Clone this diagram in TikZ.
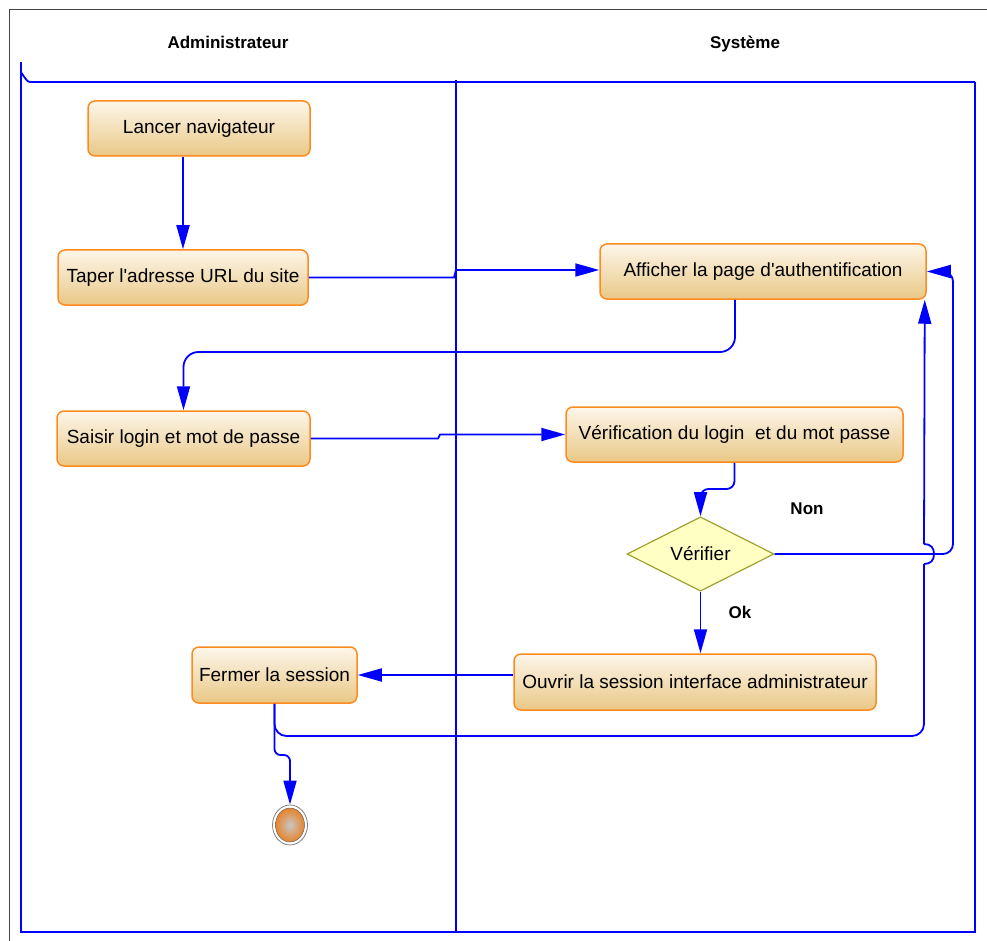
\documentclass[tikz,border=0pt]{standalone}
\usepackage{fontspec}
\setmainfont{Liberation Sans}
\usetikzlibrary{shapes.geometric,arrows.meta}
\definecolor{lane}{HTML}{0000FF}
\definecolor{actborder}{HTML}{FF8A1E}
\definecolor{actlight}{HTML}{FDF6EA}
\definecolor{actdark}{HTML}{E9C886}
\definecolor{decfill}{HTML}{FFFFC4}
\definecolor{decborder}{HTML}{A0A030}
\definecolor{framegray}{HTML}{444444}
\definecolor{endorange}{HTML}{E8842A}
\begin{document}
\begin{tikzpicture}[x=1pt,y=-1pt,
  activity/.style={draw=actborder, line width=1.5pt, rounded corners=7pt, top color=actlight, bottom color=actdark, inner sep=0pt, minimum height=55pt, font=\fontsize{19}{22}\selectfont, text=black},
  decision/.style={diamond, draw=decborder, line width=1.2pt, fill=decfill, minimum width=147pt, minimum height=72pt, inner sep=0pt, font=\fontsize{19}{22}\selectfont},
  flow/.style={draw=lane, line width=1.8pt, -{Triangle[length=24pt,width=13pt]}},
  link/.style={draw=lane, line width=1.8pt},
  lanetitle/.style={font=\bfseries\fontsize{17}{20}\selectfont},
  guard/.style={font=\bfseries\fontsize{17}{20}\selectfont}]
\useasboundingbox (0,0) rectangle (987,941);
% outer frame
\draw[framegray, line width=1pt] (987,10) -- (9,10) -- (9,941);
% swimlanes
\draw[lane, line width=1.8pt] (21,62) -- (21,932) -- (975,932) -- (975,82);
\draw[lane, line width=1.8pt] (21,74) to[out=90,in=180] (30,82) -- (975,82);
\draw[lane, line width=1.8pt] (456,80) -- (456,932);
\node[lanetitle] (tadmin) at (228,42) {Administrateur};
\node[lanetitle] (tsys) at (745,44) {Système};
% activities
\node[activity, minimum width=222pt] (lan) at (199,128.5) {Lancer navigateur};
\node[activity, minimum width=250pt] (tap) at (183,277.5) {Taper l\textquotesingle adresse URL du site};
\node[activity, minimum width=253pt] (sai) at (183.5,438.5) {Saisir login et mot de passe};
\node[activity, minimum width=326pt] (aff) at (763,271.5) {Afficher la page d\textquotesingle authentification};
\node[activity, minimum width=337pt] (ver) at (734.5,434.5) {Vérification du login\ \ et du mot passe};
\node[decision] (vf) at (700.5,554) {Vérifier};
\node[activity, minimum width=362pt, minimum height=56pt] (ouv) at (695,682) {Ouvrir la session interface administrateur};
\node[activity, minimum width=165pt, minimum height=56pt] (fer) at (274.5,675) {Fermer la session};
\node[ellipse, draw=gray, line width=0.8pt, minimum width=35pt, minimum height=40pt, inner sep=0pt, fill=white] (fin) at (290,825) {};
\node[ellipse, draw=black!60, line width=0.5pt, minimum width=29pt, minimum height=34pt, inner sep=0pt, inner color=gray!45, outer color=endorange] (finin) at (fin.center) {};
% guards
\node[guard] (gnon) at (807,509) {Non};
\node[guard] (gok) at (740,612) {Ok};
% connectors
\draw[flow] (lan.south -| tap.north) -- (tap.north);
\draw[flow] (tap.east) -- (454,277.5) -- (456,270) -- (aff.west |- 0,270);
\draw[flow, rounded corners=15pt] ([xshift=-28pt]aff.south) -- (735,352) -- (183.5,352) -- (sai.north);
\draw[flow] (sai.east) -- (438,438.5) -- (440,434.5) -- (ver.west);
\draw[flow, rounded corners=8pt] (ver.south) -- (734.5,489) -- (700.5,489) -- (vf.north);
\draw[flow, rounded corners=10pt] (vf.east) -- (953,554) -- (953,271.5) -- (aff.east);
\draw[flow] (vf.south) -- (vf.south |- ouv.north);
\draw[flow] (ouv.west |- fer.east) -- (fer.east);
\coordinate (hopa) at (924,564);
\coordinate (hopb) at (924,544);
\draw[link, rounded corners=12pt] (fer.south) -- (274.5,736) -- (924,736) -- (hopa);
\draw[link] (hopa) .. controls (931,564) and (934,560) .. (934,554) .. controls (934,548) and (931,544) .. (hopb);
\draw[flow] (hopb) -- ([xshift=-2pt]aff.south east);
\draw[flow, rounded corners=6pt] (fer.south) -- (274.5,755) -- (290,755) -- (fin.north);
\end{tikzpicture}
\end{document}
